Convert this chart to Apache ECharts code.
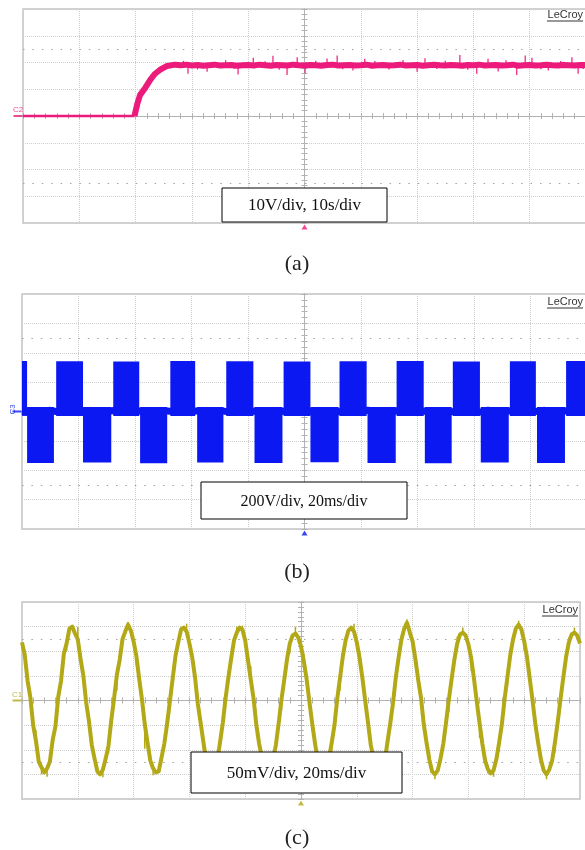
<!DOCTYPE html>
<html>
<head>
<meta charset="utf-8">
<script src="https://cdn.jsdelivr.net/npm/echarts@6/dist/echarts.min.js"></script>
<style>
  html, body { margin: 0; padding: 0; background: #fff; }
  #chart { width: 585px; height: 850px; }
</style>
</head>
<body>
<div id="chart"></div>
<script>
// ---------- (a) C2: 10 V/div, 10 s/div ----------
const flatA_t = [-50, -30.2];
const flatA_v = [0, 0];
const riseA_t = [-30.2, -29.7, -29.2, -28.3, -27.4, -26.6, -25.7, -24.4, -23];
const riseA_v = [0, 4.5, 7.9, 10.5, 13.5, 15.7, 17.2, 18.7, 19.2];
const steadyA_t0 = -22;   // one sample per second
const steadyA_v = [
  19.0, 19.2, 18.9, 19.1, 18.8, 19.0, 19.2, 18.9, 19.0, 19.1,
  18.8, 19.0, 19.1, 18.9, 19.2, 19.0, 18.8, 19.1, 19.0, 18.9,
  19.2, 19.0, 18.9, 19.1, 19.0, 18.8, 19.1, 19.2, 18.9, 19.0,
  19.1, 18.9, 19.0, 19.2, 18.8, 19.0, 19.1, 18.9, 19.0, 19.2,
  18.9, 19.0, 19.1, 18.8, 19.0, 19.2, 19.0, 18.9, 19.1, 19.0,
  18.8, 19.1, 19.0, 19.2, 18.9, 19.0, 19.1, 18.9, 19.0, 19.2,
  18.8, 19.0, 19.1, 18.9, 19.0, 19.2, 19.0, 18.9, 19.1, 19.0,
  18.9, 19.1, 19.0
];
const levelA = 19;
const spikeA_t = [-21.5, -20.7, -19, -17.3, -14, -12.5, -11.8, -9.1, -7, -5.6, -4.5, -3.1, -1.3, 0.1, 2, 4.0, 5.8,
  6.8, 8.6, 10.7, 12.5, 15, 17.5, 20.0, 21.4, 23.5, 25, 27.6, 29, 30.6, 32.6, 34.4, 35.8, 37.7, 39.2, 40.4,
  42, 43.3, 45.5, 47.5, 48.6, 49.5];
const spikeA_v = [20.6, 15.8, 17.4, 16.5, 20.8, 17.6, 15.5, 21.8, 20.5, 22.5, 17.3, 15.3, 22.0, 16.0, 20.7, 21.5, 22.6,
  17.5, 17.0, 21.4, 20.6, 17.4, 20.9, 16.5, 21.6, 17.6, 20.7, 22.8, 17.3, 15.8, 21.4, 16.6, 20.8, 15.3, 22.6, 21.8,
  17.5, 17.0, 20.6, 22.0, 15.8, 17.6];

// ---------- (b) C3: 200 V/div, 20 ms/div ----------
const posStart = [-100, -87.9, -67.7, -47.5, -27.7, -7.4, 12.4, 32.6, 52.5, 72.7, 92.6];
const posEnd   = [-98.2, -78.4, -58.5, -38.7, -18.1, 2.1, 22.0, 42.2, 62.1, 81.9, 100];
const posTop   = [344, 342, 340, 344, 342, 340, 342, 344, 340, 342, 344];
const negStart = [-98.2, -78.4, -58.2, -38.0, -17.7, 2.1, 22.3, 42.6, 62.4, 82.3];
const negEnd   = [-88.7, -68.4, -48.6, -28.7, -7.8, 12.1, 32.3, 52.1, 72.3, 92.2];
const negBottom = [-350, -348, -352, -348, -350, -346, -350, -352, -348, -350];
const innerB = 30;
const baseB_t0 = -100;    // one sample every 2.5 ms
const baseB_dt = 2.5;
const baseB_v = [
  2, -4, 6, 0, 8, -2, 4, -6, 10, 2,
  -3, 5, 0, 7, -5, 3, 9, -1, 4, -4,
  6, 1, -2, 8, 0, 5, -6, 3, 7, -1,
  2, 9, -3, 4, 0, 6, -5, 2, 8, -2,
  5, 0, -4, 7, 3, -1, 6, -3, 2, 9,
  0, 4, -6, 5, 1, 8, -2, 3, -5, 6,
  2, -1, 7, 0, 4, -4, 9, 1, -2, 5,
  3, -6, 6, 0, 8, -3, 2, 5, -1, 4,
  0
];

// ---------- (c) C1: 50 mV/div, 20 ms/div ----------
const traceC_t0 = -100;   // one sample per ms
const traceC_v = [
  118, 92, 40, 6, -50, -82, -124, -136, -146, -138, -124, -80, -52, 8, 40, 95, 116, 146, 150, 136,
  124, 84, 50, -4, -42, -90, -118, -144, -150, -140, -118, -92, -40, 4, 52, 82, 124, 140, 154, 142,
  120, 90, 44, 2, -48, -86, -122, -138, -146, -144, -116, -88, -48, -2, 44, 90, 118, 144, 148, 140,
  116, 88, 48, -6, -44, -84, -120, -142, -148, -136, -122, -84, -44, 6, 48, 86, 122, 138, 148, 144,
  122, 82, 42, 4, -50, -88, -116, -140, -146, -142, -120, -90, -46, 2, 42, 84, 116, 132, 136, 128,
  110, 80, 44, -2, -46, -86, -122, -140, -148, -140, -118, -86, -50, 4, 46, 90, 122, 142, 148, 140,
  118, 86, 46, 0, -44, -90, -118, -142, -150, -138, -124, -84, -46, -4, 48, 88, 124, 146, 158, 138,
  120, 84, 42, 6, -48, -86, -120, -144, -150, -142, -118, -88, -44, 2, 44, 84, 116, 134, 138, 132,
  114, 86, 44, -2, -46, -88, -122, -140, -148, -142, -120, -86, -48, 4, 48, 92, 124, 146, 154, 144,
  120, 88, 44, 0, -48, -86, -120, -142, -150, -140, -122, -86, -44, 2, 46, 88, 118, 134, 138, 132,
  116
];
// noise spikes on the C1 trace: [time ms, tip mV]
const spikeC = [
  [-97, 20], [-95, -60], [-93, -150], [-91, -155], [-89, -95], [-86, 58], [-84, 100], [-80, 150], [-78, 60],
  [-75, -75], [-73, -132], [-71, -156], [-69, -108], [-66, 20], [-64, 112], [-62, 160], [-59, 70], [-56, -98],
  [-53, -152], [-51, -140], [-48, -30], [-45, 80], [-43, 150], [-41, 156], [-38, 60], [-35, -100], [-32, -154],
  [-29, -68], [-26, 62], [-23, 150], [-21, 152], [-18, 70], [-15, -74], [-12, -156], [-10, -130], [-7, -20],
  [-4, 96], [-2, 150], [1, 96], [4, -62], [7, -136], [9, -160], [11, -104], [14, 20], [16, 112], [19, 156],
  [21, 100], [24, -60], [27, -152], [29, -156], [32, -60], [35, 104], [38, 165], [40, 100], [43, -8],
  [46, -104], [48, -160], [50, -126], [53, -24], [56, 130], [58, 148], [61, 60], [64, -76], [67, -148],
  [69, -155], [71, -104], [74, 30], [76, 112], [78, 162], [80, 100], [83, -8], [86, -106], [88, -160],
  [91, -106], [94, 60], [96, 128], [98, 148]
];

const PINK = '#ec1a7b';
const BLUE = '#0c18f2';
const OLIVE = '#b3a916';

const panels = [
  { grid: { left: 23, top: 9, width: 563, height: 214 }, xMax: 50, xStep: 10, yMax: 40, yStep: 10, color: PINK, ch: 'C2', rot: 0, box: { x: 222, y: 188, w: 165, h: 34, text: '10V/div, 10s/div', size: 17 }, cap: { y: 264, text: '(a)' }, brand: { x: 583, y: 15 } },
  { grid: { left: 22, top: 294, width: 565, height: 235 }, xMax: 100, xStep: 20, yMax: 800, yStep: 200, color: BLUE, ch: 'C3', rot: 90, box: { x: 201, y: 482, w: 206, h: 37, text: '200V/div, 20ms/div', size: 16 }, cap: { y: 572, text: '(b)' }, brand: { x: 583, y: 302 } },
  { grid: { left: 22, top: 602, width: 558, height: 197 }, xMax: 100, xStep: 20, yMax: 200, yStep: 50, color: OLIVE, ch: 'C1', rot: 0, box: { x: 191, y: 752, w: 211, h: 41, text: '50mV/div, 20ms/div', size: 17 }, cap: { y: 838, text: '(c)' }, brand: { x: 578, y: 610 } }
];

const AX = '#b2b2b2';
const grids = [], xAxes = [], yAxes = [], series = [], graphics = [];

panels.forEach((p, i) => {
  grids.push(Object.assign({ show: true, borderColor: '#c4c4c4', borderWidth: 1.5, outerBoundsMode: 'none', containLabel: false }, p.grid));
  ['bottom', 'top'].forEach((pos, k) => {
    xAxes.push({
      type: 'value', gridIndex: i, position: pos, min: -p.xMax, max: p.xMax, interval: p.xStep,
      axisLine: { show: true, onZero: true, lineStyle: { color: AX, width: 1 } },
      axisTick: { show: true, inside: true, length: 3, lineStyle: { color: AX } },
      minorTick: { show: true, splitNumber: 5, length: 3, lineStyle: { color: AX } },
      axisLabel: { show: false },
      splitLine: { show: k === 0, lineStyle: { color: '#cdcdcd', type: 'dotted', width: 1 } }
    });
  });
  ['left', 'right'].forEach((pos, k) => {
    yAxes.push({
      type: 'value', gridIndex: i, position: pos, min: -p.yMax, max: p.yMax, interval: p.yStep,
      axisLine: { show: true, onZero: true, lineStyle: { color: AX, width: 1 } },
      axisTick: { show: true, inside: true, length: 3, lineStyle: { color: AX } },
      minorTick: { show: true, splitNumber: 5, length: 3, lineStyle: { color: AX } },
      axisLabel: { show: false },
      splitLine: { show: k === 0, lineStyle: { color: '#cdcdcd', type: 'dotted', width: 1 } }
    });
  });

  const ax = { xAxisIndex: 2 * i, yAxisIndex: 2 * i };
  // channel marker + dotted rows at +-2.5 div
  series.push(Object.assign({
    type: 'scatter', clip: false, silent: true, z: 1,
    data: [[-p.xMax, 0]], symbol: 'rect', symbolSize: [9, 2], symbolOffset: [-5, 0],
    itemStyle: { color: p.color },
    label: { show: true, formatter: p.ch, position: 'top', distance: 1, rotate: p.rot, fontSize: 8, color: p.color, fontFamily: 'Liberation Sans' },
    markLine: {
      silent: true, symbol: ['none', 'none'], label: { show: false },
      lineStyle: { color: '#a0a0a0', type: [1.5, 7.9], width: 1 },
      data: [{ yAxis: p.yMax * 0.625 }, { yAxis: -p.yMax * 0.625 }]
    }
  }, ax));
  // trigger marker
  series.push(Object.assign({
    type: 'scatter', clip: false, silent: true,
    data: [[0, -p.yMax]], symbol: 'triangle', symbolSize: [6, 5], symbolOffset: [0, 4],
    itemStyle: { color: p.color }
  }, ax));

  graphics.push({ type: 'rect', z: 100, zlevel: 1, shape: { x: p.box.x, y: p.box.y, width: p.box.w, height: p.box.h }, style: { fill: '#fff', stroke: '#000', lineWidth: 1 } });
  graphics.push({ type: 'text', z: 101, zlevel: 1, style: { x: p.box.x + p.box.w / 2, y: p.box.y + p.box.h / 2 + 1, text: p.box.text, textAlign: 'center', textVerticalAlign: 'middle', font: p.box.size + 'px "Liberation Serif"', fill: '#111' } });
  graphics.push({ type: 'text', z: 100, style: { x: 297, y: p.cap.y, text: p.cap.text, textAlign: 'center', textVerticalAlign: 'middle', font: '22px "Liberation Serif"', fill: '#222' } });
  graphics.push({ type: 'text', z: 100, style: { x: p.brand.x, y: p.brand.y, text: 'LeCroy', textAlign: 'right', textVerticalAlign: 'middle', font: '11px "Liberation Sans"', fill: '#333' } });
  graphics.push({ type: 'line', z: 100, shape: { x1: p.brand.x - 36, y1: p.brand.y + 6, x2: p.brand.x, y2: p.brand.y + 6 }, style: { stroke: '#333', lineWidth: 1 } });
});

// (a) traces
series.push({
  type: 'line', xAxisIndex: 0, yAxisIndex: 0, showSymbol: false, silent: true, z: 3,
  data: flatA_t.map((t, i) => [t, flatA_v[i]]), lineStyle: { color: PINK, width: 2.5 }
});
series.push({
  type: 'line', xAxisIndex: 0, yAxisIndex: 0, showSymbol: false, silent: true, z: 3,
  data: riseA_t.map((t, i) => [t, riseA_v[i]]).concat(steadyA_v.map((v, i) => [steadyA_t0 + i, v])),
  lineStyle: { color: PINK, width: 6, join: 'round' }
});
series.push({
  type: 'custom', xAxisIndex: 0, yAxisIndex: 0, silent: true, z: 3,
  data: spikeA_t.map((t, i) => [t, spikeA_v[i]]), encode: { x: 0, y: 1 },
  renderItem: (params, api) => {
    const a = api.coord([api.value(0), levelA]);
    const b = api.coord([api.value(0), api.value(1)]);
    return { type: 'line', shape: { x1: a[0], y1: a[1], x2: b[0], y2: b[1] }, style: { stroke: PINK, lineWidth: 1.2 } };
  }
});

// (b) traces
series.push({
  type: 'line', xAxisIndex: 2, yAxisIndex: 2, showSymbol: false, silent: true, z: 3,
  data: baseB_v.map((v, i) => [baseB_t0 + i * baseB_dt, v]), lineStyle: { color: BLUE, width: 7 }
});
const blocksB = posStart.map((s, i) => [s, posEnd[i], posTop[i], -innerB])
  .concat(negStart.map((s, i) => [s, negEnd[i], innerB, negBottom[i]]));
series.push({
  type: 'custom', xAxisIndex: 2, yAxisIndex: 2, silent: true, z: 3,
  data: blocksB, encode: { x: [0, 1], y: [2, 3] },
  renderItem: (params, api) => {
    const p1 = api.coord([api.value(0), api.value(2)]);
    const p2 = api.coord([api.value(1), api.value(3)]);
    return {
      type: 'rect',
      shape: { x: p1[0], y: Math.min(p1[1], p2[1]), width: p2[0] - p1[0], height: Math.abs(p2[1] - p1[1]) },
      style: { fill: BLUE }
    };
  }
});

// (c) trace
series.push({
  type: 'line', xAxisIndex: 4, yAxisIndex: 4, showSymbol: false, silent: true, z: 3,
  data: traceC_v.map((v, i) => [traceC_t0 + i, v]), lineStyle: { color: OLIVE, width: 4, join: 'round' }
});
series.push({
  type: 'custom', xAxisIndex: 4, yAxisIndex: 4, silent: true, z: 3,
  data: spikeC, encode: { x: 0, y: 1 },
  renderItem: (params, api) => {
    const t = api.value(0);
    const a = api.coord([t, traceC_v[t - traceC_t0]]);
    const b = api.coord([t, api.value(1)]);
    return { type: 'line', shape: { x1: a[0], y1: a[1], x2: b[0], y2: b[1] }, style: { stroke: OLIVE, lineWidth: 1.5 } };
  }
});

const chart = echarts.init(document.getElementById('chart'), null, { renderer: 'canvas' });
chart.setOption({
  animation: false,
  backgroundColor: '#fff',
  grid: grids,
  xAxis: xAxes,
  yAxis: yAxes,
  series: series,
  graphic: graphics
});
</script>
</body>
</html>
